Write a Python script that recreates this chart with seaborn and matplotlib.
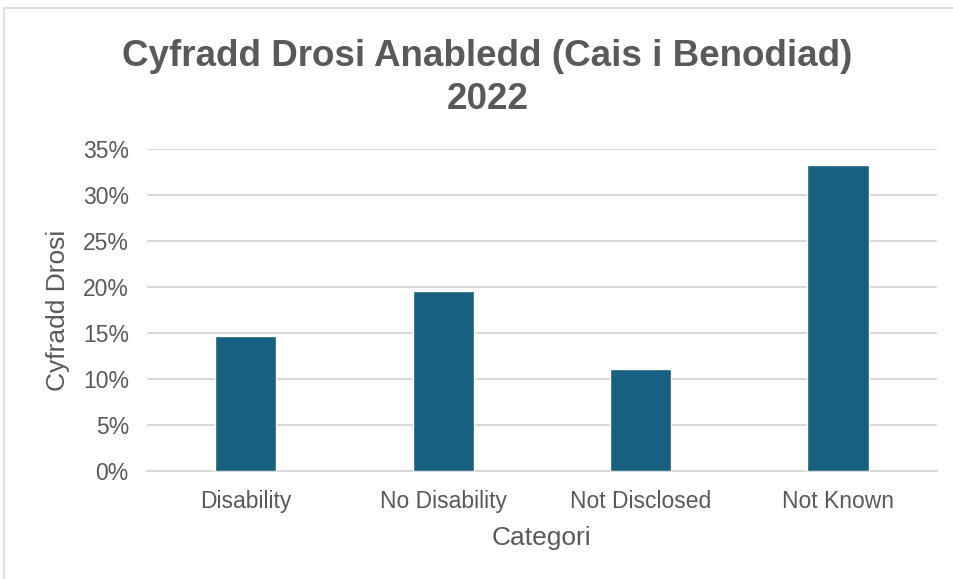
import matplotlib
matplotlib.use("Agg")
import matplotlib.pyplot as plt
import pandas as pd
import seaborn as sns
from matplotlib.ticker import PercentFormatter, MultipleLocator
from matplotlib.patches import Rectangle

# Data
categories = ["Disability", "No Disability", "Not Disclosed", "Not Known"]
rates = [14.7, 19.6, 11.1, 33.3]  # percent

title = "Cyfradd Drosi Anabledd (Cais i Benodiad)\n2022"
x_label = "Categori"
y_label = "Cyfradd Drosi"

BAR = "#17607f"
TEXT = "#595959"
GRID = "#d9d9d9"

sns.set_style("white")
plt.rcParams["font.family"] = ["Liberation Sans", "DejaVu Sans"]

df = pd.DataFrame({"cat": categories, "rate": rates})

fig = plt.figure(figsize=(9.54, 5.79), dpi=100)
ax = fig.add_axes([0.154, 0.1865, 0.828, 0.5562])

sns.barplot(data=df, x="cat", y="rate", color=BAR, width=0.31,
            saturation=1, ax=ax, zorder=3)

ax.set_ylim(0, 35)
ax.yaxis.set_major_locator(MultipleLocator(5))
ax.yaxis.set_major_formatter(PercentFormatter(xmax=100, decimals=0))
ax.grid(axis="y", color=GRID, linewidth=1.5, zorder=0)
ax.set_axisbelow(True)
for side in ["top", "right", "left"]:
    ax.spines[side].set_visible(False)
ax.spines["bottom"].set_color(GRID)
ax.spines["bottom"].set_linewidth(1.5)

ax.tick_params(axis="both", length=0, labelsize=16.5, colors=TEXT)
ax.tick_params(axis="y", pad=13)
ax.tick_params(axis="x", pad=14)

ax.set_xlabel(x_label, fontsize=19, color=TEXT)
ax.set_ylabel(y_label, fontsize=19, color=TEXT)
ax.xaxis.set_label_coords(0.5, -0.17)
ax.yaxis.set_label_coords(-0.098, 0.5)

fig.text(0.511, 0.866, title, ha="center", va="center", fontsize=26.5,
         fontweight="bold", color=TEXT, linespacing=1.3)

# light outer frame like the chart area border
fig.patches.append(Rectangle((4 / 954, -0.01), 1.0, 1 - 8 / 579 + 0.01,
                             transform=fig.transFigure, fill=False,
                             edgecolor=GRID, linewidth=1.2))

fig.savefig("out.png", dpi=100)
